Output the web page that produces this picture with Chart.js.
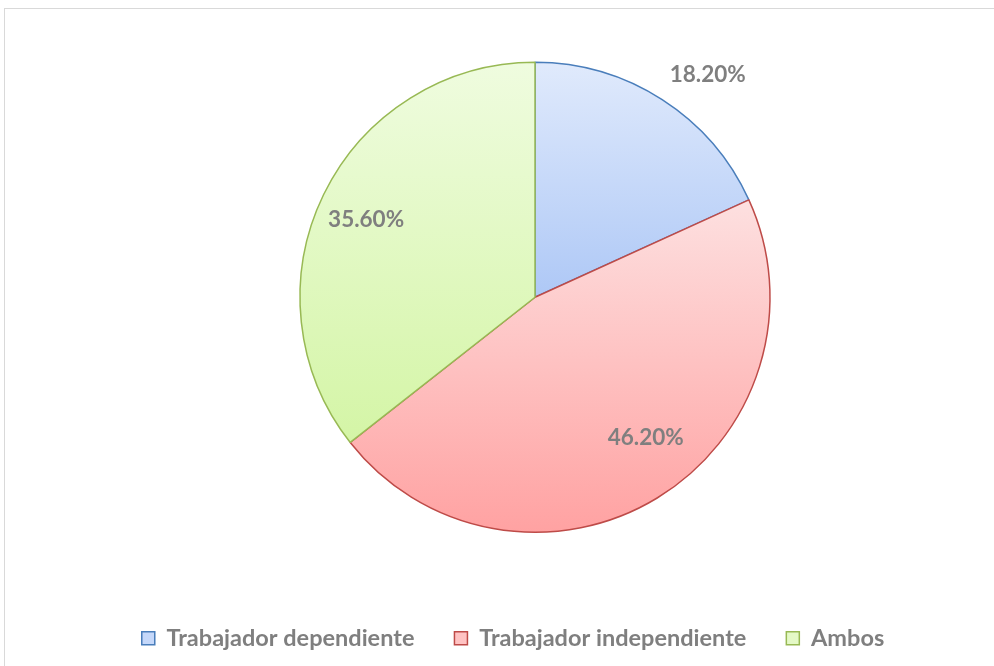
<!DOCTYPE html>
<html lang="es">
<head>
    <meta charset="UTF-8">
    <title>Tipo de trabajador</title>
    <script src="https://cdn.jsdelivr.net/npm/chart.js"></script>
    <style>
        html, body { margin: 0; padding: 0; background: #fff; overflow: hidden; }
        #frame { position: absolute; left: 4px; top: 8px; width: 1000px; height: 700px;
                 border-top: 1px solid #d9d9d9; border-left: 1px solid #d9d9d9; }
        #wrap { position: absolute; left: 0; top: 8px; width: 994px; height: 652px; }
    </style>
</head>
<body>
    <div id="frame"></div>
    <div id="wrap"><canvas id="pieChart"></canvas></div>

    <script>
        // data
        const categories = ['Trabajador dependiente', 'Trabajador independiente', 'Ambos'];
        const shares = [18.2, 46.2, 35.6];
        const valueLabels = ['18.20%', '46.20%', '35.60%'];

        // colours (top of gradient, bottom of gradient, border)
        const topColors = ['#e0eafc', '#fde0e0', '#effcdf'];
        const bottomColors = ['#aec8f6', '#ffa2a2', '#d4f5a6'];
        const borderColors = ['#4a7ebb', '#be4b48', '#98b954'];
        const legendColors = ['#c5d8fa', '#ffc3c3', '#e4f9c6'];

        // label placement: [angle shift in degrees, radius factor]
        const labelPlacement = [[5, 1.2], [-7, 0.76], [-1.4, 0.79]];

        const PIE_RADIUS = 235;

        // vertical extent of a slice, so each slice gets its own gradient
        function sliceGradient(context) {
            const chart = context.chart;
            const area = chart.chartArea;
            const i = context.dataIndex;
            if (!area) return topColors[i];
            const cx = (area.left + area.right) / 2;
            const cy = (area.top + area.bottom) / 2;
            const total = shares.reduce((a, b) => a + b, 0);
            let start = 0;
            for (let k = 0; k < i; k++) start += shares[k];
            const a0 = start / total * 2 * Math.PI - Math.PI / 2;
            const a1 = (start + shares[i]) / total * 2 * Math.PI - Math.PI / 2;
            let minY = cy, maxY = cy;
            for (let s = 0; s <= 60; s++) {
                const a = a0 + (a1 - a0) * s / 60;
                const y = cy + PIE_RADIUS * Math.sin(a);
                minY = Math.min(minY, y);
                maxY = Math.max(maxY, y);
            }
            const g = chart.ctx.createLinearGradient(0, minY, 0, maxY);
            g.addColorStop(0, topColors[i]);
            g.addColorStop(1, bottomColors[i]);
            return g;
        }

        // percentage labels
        const valueLabelPlugin = {
            id: 'valueLabels',
            afterDatasetsDraw(chart) {
                const ctx = chart.ctx;
                const arcs = chart.getDatasetMeta(0).data;
                ctx.save();
                ctx.font = 'bold 22.5px Lato';
                ctx.fillStyle = '#7f7f7f';
                ctx.textAlign = 'center';
                ctx.textBaseline = 'middle';
                arcs.forEach((arc, i) => {
                    const p = arc.getProps(['x', 'y', 'startAngle', 'endAngle', 'outerRadius'], true);
                    const mid = (p.startAngle + p.endAngle) / 2 + labelPlacement[i][0] * Math.PI / 180;
                    const r = p.outerRadius * labelPlacement[i][1];
                    ctx.fillText(valueLabels[i], p.x + Math.cos(mid) * r, p.y + Math.sin(mid) * r);
                });
                ctx.restore();
            }
        };

        // shift the legend a bit to the left, like the original
        const legendShift = {
            id: 'legendShift',
            afterInit(chart) {
                const legend = chart.legend;
                const orig = legend.draw.bind(legend);
                legend.draw = function () {
                    chart.ctx.save();
                    chart.ctx.translate(-22, 0);
                    orig();
                    chart.ctx.restore();
                };
            }
        };

        new Chart(document.getElementById('pieChart'), {
            type: 'pie',
            data: {
                labels: categories,
                datasets: [{
                    data: shares,
                    backgroundColor: sliceGradient,
                    borderColor: borderColors,
                    borderWidth: 1.5,
                    radius: PIE_RADIUS
                }]
            },
            options: {
                responsive: true,
                maintainAspectRatio: false,
                animation: false,
                layout: { padding: { top: 0, bottom: 0, left: 76, right: 0 } },
                plugins: {
                    tooltip: { enabled: false },
                    legend: {
                        position: 'bottom',
                        labels: {
                            boxWidth: 13,
                            boxHeight: 13,
                            padding: 40,
                            color: '#7f7f7f',
                            font: { family: 'Lato', size: 23.5, weight: 'bold' },
                            generateLabels(chart) {
                                return categories.map((c, i) => ({
                                    text: c,
                                    fillStyle: legendColors[i],
                                    strokeStyle: borderColors[i],
                                    lineWidth: 1.5,
                                    fontColor: '#7f7f7f',
                                    index: i
                                }));
                            }
                        }
                    }
                }
            },
            plugins: [valueLabelPlugin, legendShift]
        });
    </script>
</body>
</html>
